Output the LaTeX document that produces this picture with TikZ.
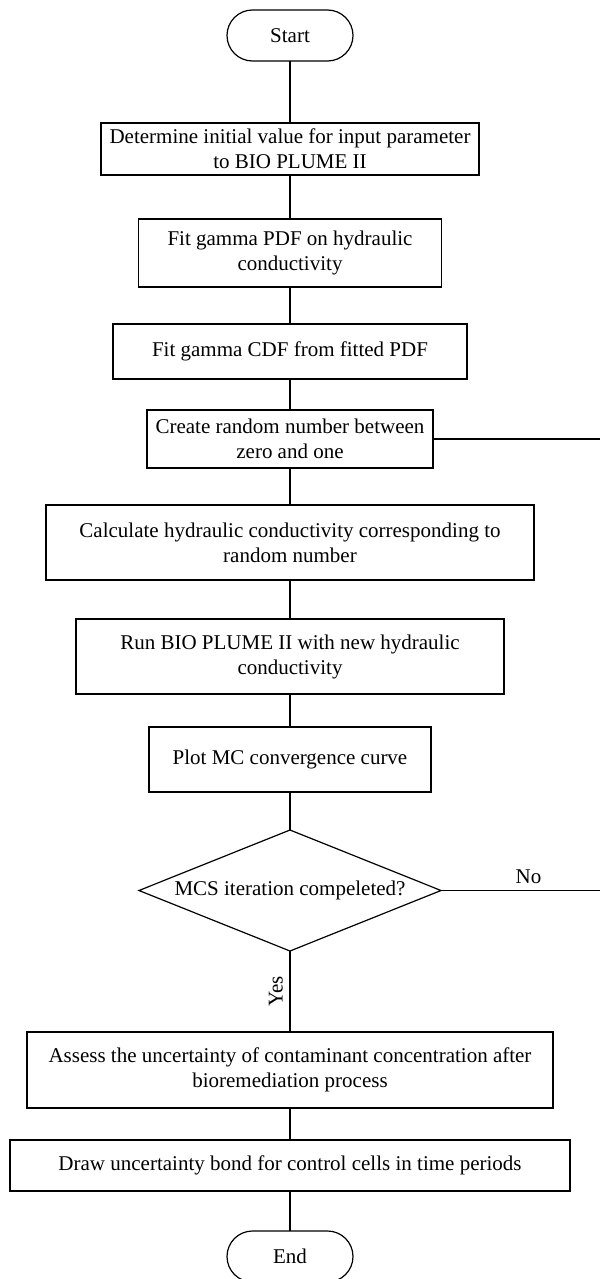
\documentclass[tikz,border=0pt]{standalone}
\usepackage{fontspec}
\setmainfont{Liberation Serif}
\usetikzlibrary{positioning,shapes.geometric}

\begin{document}
\begin{tikzpicture}[
    line width=0.6pt,
    node distance=18pt,
    box/.style={draw,align=center,inner sep=1pt,outer sep=0pt,
                font=\fontsize{10.5}{12.5}\selectfont},
    term/.style={box,rounded corners=12.75pt,minimum width=63pt,
                 minimum height=25.5pt},
    decision/.style={draw,diamond,shape aspect=2.5,inner sep=0pt,outer sep=0pt,
                     minimum width=151pt,minimum height=60.5pt,
                     font=\fontsize{10.5}{12.5}\selectfont},
    lbl/.style={font=\fontsize{10.5}{12.5}\selectfont}]
  \useasboundingbox (0,0) rectangle (300pt,-639.5pt);
  \coordinate (edge) at (300pt,0);

  \node[term] (start) at (145pt,-17.75pt) {Start};
  \node[box,below=31pt of start,minimum width=189pt,minimum height=26pt] (init)
        {Determine initial value for input parameter\\to BIO PLUME II};
  \node[box,below=22pt of init,minimum width=151.5pt,minimum height=34pt] (pdf)
        {Fit gamma PDF on hydraulic\\conductivity};
  \node[box,below=18.5pt of pdf,minimum width=177pt,minimum height=27.5pt] (cdf)
        {Fit gamma CDF from fitted PDF};
  \node[box,below=15.5pt of cdf,minimum width=143pt,minimum height=29pt] (rand)
        {Create random number between\\zero and one};
  \node[box,below=18.5pt of rand,minimum width=244pt,minimum height=37.5pt] (calc)
        {Calculate hydraulic conductivity corresponding to\\random number};
  \node[box,below=19.5pt of calc,minimum width=214pt,minimum height=37.5pt] (run)
        {Run BIO PLUME II with new hydraulic\\conductivity};
  \node[box,below=16.5pt of run,minimum width=141pt,minimum height=32.5pt] (plot)
        {Plot MC convergence curve};
  \node[decision,below=19pt of plot] (check) {MCS iteration compeleted?};
  \node[box,below=40.5pt of check,minimum width=263pt,minimum height=38pt] (assess)
        {Assess the uncertainty of contaminant concentration after\\
         bioremediation process};
  \node[box,below=16pt of assess,minimum width=280pt,minimum height=25.5pt] (bond)
        {Draw uncertainty bond for control cells in time periods};
  \node[term,below=20pt of bond] (end) {End};

  \coordinate (back) at (rand.east -| edge);
  \coordinate (noend) at (check.east -| edge);

  \draw (start) -- (init);
  \draw (init)  -- (pdf);
  \draw (pdf)   -- (cdf);
  \draw (cdf)   -- (rand);
  \draw (rand)  -- (calc);
  \draw (calc)  -- (run);
  \draw (run)   -- (plot);
  \draw (plot)  -- (check);
  \draw (check) -- node[lbl,midway,rotate=90,anchor=south]{Yes} (assess);
  \draw (assess) -- (bond);
  \draw (bond)  -- (end);

  \draw (rand)  -- (back);
  \draw (check) -- node[lbl,pos=0.55,above]{No} (noend);
\end{tikzpicture}
\end{document}
